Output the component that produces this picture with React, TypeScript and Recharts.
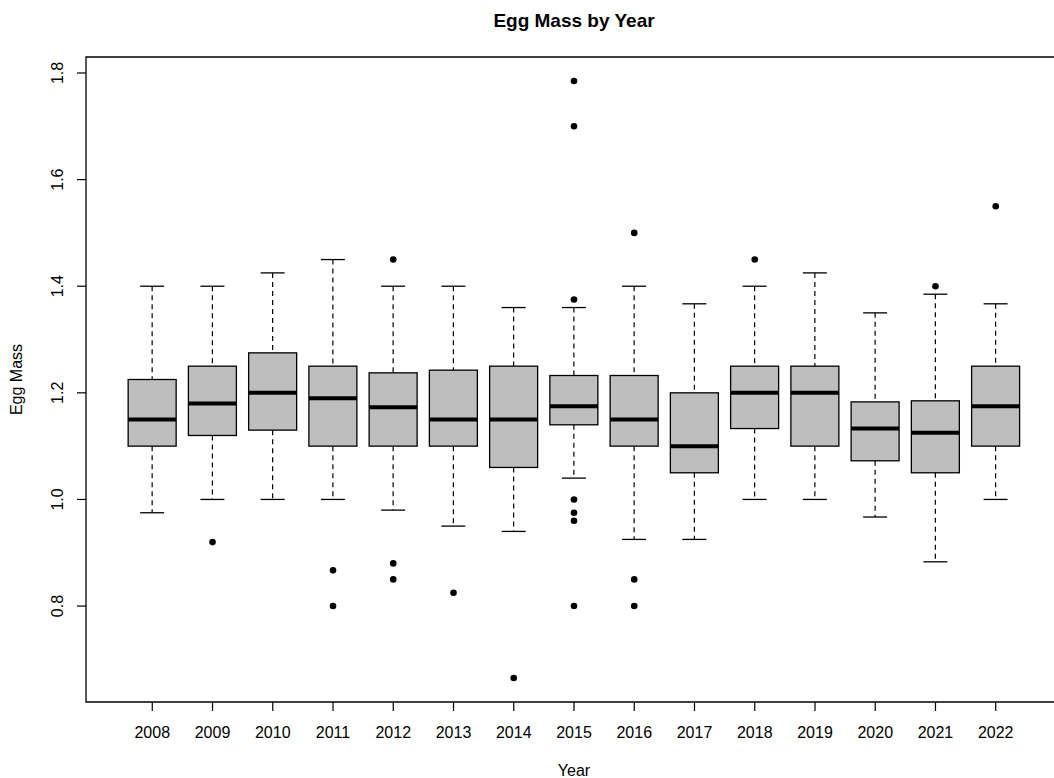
import React from "react";
import {
  ComposedChart,
  Bar,
  Scatter,
  XAxis,
  YAxis,
  ReferenceArea,
  Label,
} from "recharts";

// --- data ---
const years = [2008, 2009, 2010, 2011, 2012, 2013, 2014, 2015, 2016, 2017, 2018, 2019, 2020, 2021, 2022];
const whiskerLow = [0.975, 1.0, 1.0, 1.0, 0.98, 0.95, 0.94, 1.04, 0.925, 0.925, 1.0, 1.0, 0.967, 0.883, 1.0];
const lowerQuartile = [1.1, 1.12, 1.13, 1.1, 1.1, 1.1, 1.06, 1.14, 1.1, 1.05, 1.133, 1.1, 1.0725, 1.05, 1.1];
const medians = [1.15, 1.18, 1.2, 1.19, 1.173, 1.15, 1.15, 1.175, 1.15, 1.1, 1.2, 1.2, 1.133, 1.125, 1.175];
const upperQuartile = [1.225, 1.25, 1.275, 1.25, 1.2375, 1.2425, 1.25, 1.2325, 1.2325, 1.2, 1.25, 1.25, 1.183, 1.185, 1.25];
const whiskerHigh = [1.4, 1.4, 1.425, 1.45, 1.4, 1.4, 1.36, 1.36, 1.4, 1.367, 1.4, 1.425, 1.35, 1.385, 1.367];
const outliers: number[][] = [
  [],
  [0.92],
  [],
  [0.867, 0.8],
  [1.45, 0.88, 0.85],
  [0.825],
  [0.665],
  [1.785, 1.7, 1.375, 1.0, 0.975, 0.96, 0.8],
  [1.5, 0.85, 0.8],
  [],
  [1.45],
  [],
  [],
  [1.4],
  [1.55],
];
const yTicks = [0.8, 1.0, 1.2, 1.4, 1.6, 1.8];

const boxes = years.map((year, i) => ({
  pos: i + 1,
  year,
  lo: whiskerLow[i],
  q1: lowerQuartile[i],
  med: medians[i],
  q3: upperQuartile[i],
  hi: whiskerHigh[i],
}));

const points = outliers.flatMap((vals, i) => vals.map((v) => ({ pos: i + 1, value: v })));

const FONT = "'Liberation Sans', Arial, Helvetica, sans-serif";

// draws one box; bar geometry spans lo..hi so we derive px-per-unit from it
function BoxShape(props: any) {
  const { x, y, width, height, payload } = props;
  if (!payload) return null;
  const top = Math.min(y, y + height);
  const k = Math.abs(height) / (payload.hi - payload.lo);
  const py = (v: number) => top + (payload.hi - v) * k;
  const cx = x + width / 2;
  const cap = width / 4;
  return (
    <g>
      <line x1={cx} x2={cx} y1={py(payload.hi)} y2={py(payload.q3)} stroke="#000" strokeWidth={1.2} strokeDasharray="5 4" />
      <line x1={cx} x2={cx} y1={py(payload.q1)} y2={py(payload.lo)} stroke="#000" strokeWidth={1.2} strokeDasharray="5 4" />
      <line x1={cx - cap} x2={cx + cap} y1={py(payload.hi)} y2={py(payload.hi)} stroke="#000" strokeWidth={1.3} />
      <line x1={cx - cap} x2={cx + cap} y1={py(payload.lo)} y2={py(payload.lo)} stroke="#000" strokeWidth={1.3} />
      <rect
        x={x}
        y={py(payload.q3)}
        width={width}
        height={py(payload.q1) - py(payload.q3)}
        fill="#bebebe"
        stroke="#000"
        strokeWidth={1.3}
      />
      <line x1={x} x2={x + width} y1={py(payload.med)} y2={py(payload.med)} stroke="#000" strokeWidth={4} />
    </g>
  );
}

const RotatedTick = ({ x, y, payload }: any) => (
  <text
    x={x}
    y={y}
    transform={`rotate(-90, ${x}, ${y})`}
    textAnchor="middle"
    fontSize={16}
    fontFamily={FONT}
    fill="#000"
  >
    {Number(payload.value).toFixed(1)}
  </text>
);

export default function App() {
  return (
    <div
      style={{
        position: "fixed",
        left: 0,
        top: 0,
        width: 1054,
        height: 778,
        overflow: "hidden",
        background: "#fff",
        fontFamily: FONT,
      }}
    >
      {/* title, centred over the plot region like R does */}
      <div
        style={{
          position: "absolute",
          top: 11,
          left: 0,
          width: 1148,
          textAlign: "center",
          fontSize: 19,
          lineHeight: "19px",
          fontWeight: 700,
          color: "#000",
        }}
      >
        Egg Mass by Year
      </div>

      <ComposedChart
        width={1100}
        height={778}
        data={boxes}
        margin={{ top: 57, right: 38, bottom: 36, left: 26 }}
        style={{ fontFamily: FONT }}
      >
        <XAxis
          type="number"
          dataKey="pos"
          domain={[-0.1, 16.1]}
          ticks={years.map((_, i) => i + 1)}
          interval={0}
          tickFormatter={(v: number) => String(years[v - 1])}
          axisLine={false}
          tickLine={{ stroke: "#000", strokeWidth: 1.2 }}
          tickSize={9}
          tickMargin={16}
          height={40}
          tick={{ fontSize: 16, fill: "#000", fontFamily: FONT }}
        >
          <Label
            content={({ viewBox }: any) => (
              <text
                x={viewBox ? viewBox.x + viewBox.width / 2 : 574}
                y={776}
                textAnchor="middle"
                fontSize={16}
                fontFamily={FONT}
                fill="#000"
              >
                Year
              </text>
            )}
          />
        </XAxis>
        <YAxis
          type="number"
          dataKey="value"
          domain={[0.62, 1.83]}
          ticks={yTicks}
          interval={0}
          width={60}
          axisLine={false}
          tickLine={{ stroke: "#000", strokeWidth: 1.2 }}
          tickSize={9}
          tickMargin={14}
          tick={<RotatedTick />}
        >
          <Label
            content={({ viewBox }: any) => {
              const cy = viewBox ? viewBox.y + viewBox.height / 2 : 379;
              return (
                <text
                  x={22}
                  y={cy}
                  transform={`rotate(-90, 22, ${cy})`}
                  textAnchor="middle"
                  fontSize={16}
                  fontFamily={FONT}
                  fill="#000"
                >
                  Egg Mass
                </text>
              );
            }}
          />
        </YAxis>
        <ReferenceArea
          x1={-0.1}
          x2={16.1}
          y1={0.62}
          y2={1.83}
          fill="none"
          fillOpacity={0}
          stroke="#000"
          strokeWidth={1.3}
          ifOverflow="visible"
        />
        <Bar
          dataKey={(d: any) => [d.lo, d.hi]}
          barSize={48}
          shape={<BoxShape />}
          isAnimationActive={false}
        />
        <Scatter
          data={points}
          dataKey="value"
          isAnimationActive={false}
          shape={(p: any) => <circle cx={p.cx} cy={p.cy} r={3.3} fill="#000" />}
        />
      </ComposedChart>
    </div>
  );
}
